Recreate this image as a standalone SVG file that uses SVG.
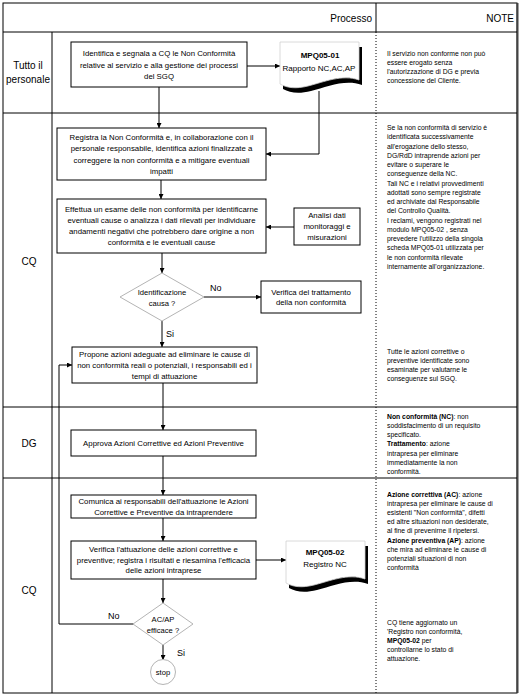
<svg xmlns="http://www.w3.org/2000/svg" width="522" height="696" viewBox="0 0 522 696">
<style>
text{font-family:"Liberation Sans",Arial,sans-serif;fill:#000}
.t{font-size:7.8px;text-anchor:middle}
.n{font-size:6.8px;text-anchor:start}
.lane{font-size:10px;text-anchor:middle}
.hd{font-size:10px;text-anchor:end}
.lbl{font-size:9px}
.box{fill:#fff;stroke:#000;stroke-width:1}
.dec{fill:#fff;stroke:#b4b4b4;stroke-width:1}
.doc{fill:#fff;stroke:#d0d0d0;stroke-width:0.8}
.sh{fill:#000}
.grid{stroke:#000;stroke-width:1;fill:none}
.dot{stroke:#000;stroke-width:1;stroke-dasharray:1 2;fill:none}
.conn{fill:none;stroke:#000;stroke-width:1}
.b{font-weight:bold}
</style>
<defs>
<marker id="ah" viewBox="0 0 10 10" refX="10" refY="5" markerWidth="6" markerHeight="5" markerUnits="userSpaceOnUse" orient="auto">
<path d="M0,0 L10,5 L0,10 Z" fill="#000"/>
</marker>
<path id="docshape" d="M0,0 H79 V38 C62,32 44,40 28,44 C16,47 7,46 0,42 Z"/>
</defs>
<rect width="522" height="696" fill="#fff"/>
<g id="frame">
<rect x="3" y="3" width="514" height="690" class="grid" stroke-width="1.3"/>
<line x1="517.5" y1="3" x2="517.5" y2="693" stroke="#444" stroke-width="2"/>
<line x1="3" y1="32" x2="517" y2="32" class="grid"/>
<line x1="376" y1="3" x2="376" y2="32" class="grid"/>
<line x1="376" y1="32" x2="376" y2="693" class="dot"/>
<line x1="52" y1="32" x2="52" y2="693" class="grid"/>
<line x1="3" y1="113" x2="517" y2="113" class="grid"/>
<line x1="3" y1="407" x2="517" y2="407" class="grid"/>
<line x1="3" y1="478" x2="517" y2="478" class="grid"/>
<text class="hd" x="372" y="22">Processo</text>
<text class="hd" x="514" y="22">NOTE</text>
</g>
<g id="lanes">
<text class="lane" x="28" y="69">Tutto il</text>
<text class="lane" x="28" y="83">personale</text>
<text class="lane" x="29" y="265">CQ</text>
<text class="lane" x="29" y="447">DG</text>
<text class="lane" x="29" y="594">CQ</text>
</g>
<g id="connectors">
<line x1="247" y1="66" x2="280" y2="66" class="conn" marker-end="url(#ah)"/>
<line x1="159" y1="87" x2="159" y2="128" class="conn" marker-end="url(#ah)"/>
<polyline points="319,91 319,154 266,154" class="conn" marker-end="url(#ah)"/>
<line x1="161" y1="180" x2="161" y2="199" class="conn" marker-end="url(#ah)"/>
<line x1="294" y1="227" x2="266" y2="227" class="conn" marker-end="url(#ah)"/>
<line x1="162" y1="253" x2="162" y2="273" class="conn" marker-end="url(#ah)"/>
<line x1="204" y1="297" x2="261" y2="297" class="conn" marker-end="url(#ah)"/>
<line x1="162" y1="321" x2="162" y2="347" class="conn" marker-end="url(#ah)"/>
<line x1="163" y1="383" x2="163" y2="430" class="conn" marker-end="url(#ah)"/>
<line x1="163" y1="456" x2="163" y2="495" class="conn" marker-end="url(#ah)"/>
<line x1="163" y1="518" x2="163" y2="541" class="conn" marker-end="url(#ah)"/>
<line x1="256" y1="560" x2="286" y2="560" class="conn" marker-end="url(#ah)"/>
<line x1="163" y1="579" x2="163" y2="603" class="conn" marker-end="url(#ah)"/>
<line x1="163" y1="645" x2="163" y2="660" class="conn" marker-end="url(#ah)"/>
<polyline points="134,624 59,624 59,365 72,365" class="conn" marker-end="url(#ah)"/>
<text class="lbl" x="210" y="291">No</text>
<text class="lbl" x="166" y="337">Si</text>
<text class="lbl" x="108" y="619">No</text>
<text class="lbl" x="177" y="656">Si</text>
</g>
<g id="n-identifica">
<rect x="71" y="42" width="176" height="45" class="box"/>
<text class="t"><tspan x="159" y="56">Identifica e segnala a CQ le Non Conformità</tspan><tspan x="159" y="67.5">relative al servizio e alla gestione dei processi</tspan><tspan x="159" y="79">del SGQ</tspan></text>
</g>
<g id="n-doc1">
<use href="#docshape" x="283" y="47" class="sh"/>
<use href="#docshape" x="280" y="42" class="doc"/>
<text class="t" style="font-size:8px"><tspan x="320" y="58" class="b">MPQ05-01</tspan><tspan x="319" y="71">Rapporto NC,AC,AP</tspan></text>
</g>
<g id="n-registra">
<rect x="57" y="128" width="209" height="52" class="box"/>
<text class="t"><tspan x="161.5" y="140">Registra la Non Conformità e, in collaborazione con il</tspan><tspan x="161.5" y="151.3">personale responsabile, identifica azioni finalizzate a</tspan><tspan x="161.5" y="162.6">correggere la non conformità e a mitigare eventuali</tspan><tspan x="161.5" y="173.9">impatti</tspan></text>
</g>
<g id="n-effettua">
<rect x="57" y="199" width="209" height="54" class="box"/>
<text class="t"><tspan x="161.5" y="212.3">Effettua un esame delle non conformità per identificarne</tspan><tspan x="161.5" y="223.3">eventuali cause o analizza i dati rilevati per individuare</tspan><tspan x="161.5" y="234.3">andamenti negativi che potrebbero dare origine a non</tspan><tspan x="161.5" y="245.3">conformità e le eventuali cause</tspan></text>
</g>
<g id="n-analisi">
<rect x="294" y="208" width="66" height="37" class="box"/>
<text class="t"><tspan x="327" y="218.3">Analisi dati</tspan><tspan x="327" y="229.3">monitoraggi e</tspan><tspan x="327" y="240.3">misurazioni</tspan></text>
</g>
<g id="n-dec1">
<polygon points="162,273 204,297 162,321 120,297" class="dec"/>
<text class="t" style="font-size:7.6px"><tspan x="162" y="295">Identificazione</tspan><tspan x="162" y="306">causa ?</tspan></text>
</g>
<g id="n-verifica">
<rect x="261" y="281" width="100" height="32" class="box"/>
<text class="t"><tspan x="311" y="294.5">Verifica del trattamento</tspan><tspan x="311" y="305">della non conformità</tspan></text>
</g>
<g id="n-propone">
<rect x="72" y="347" width="185" height="36" class="box"/>
<text class="t"><tspan x="164.5" y="356.8">Propone azioni adeguate ad eliminare le cause di</tspan><tspan x="164.5" y="367.8">non conformità reali o potenziali, i responsabili ed i</tspan><tspan x="164.5" y="378.8">tempi di attuazione</tspan></text>
</g>
<g id="n-approva">
<rect x="71" y="430" width="185" height="26" class="box"/>
<text class="t" x="163.5" y="445.8">Approva Azioni Correttive ed Azioni Preventive</text>
</g>
<g id="n-comunica">
<rect x="71" y="495" width="185" height="23" class="box"/>
<text class="t"><tspan x="163.5" y="503.8">Comunica ai responsabili dell'attuazione le Azioni</tspan><tspan x="163.5" y="514.8">Correttive e Preventive da intraprendere</tspan></text>
</g>
<g id="n-verifica2">
<rect x="71" y="541" width="185" height="38" class="box"/>
<text class="t"><tspan x="163.5" y="552.3">Verifica l'attuazione delle azioni correttive e</tspan><tspan x="163.5" y="562.8">preventive; registra i risultati e riesamina l'efficacia</tspan><tspan x="163.5" y="573.3">delle azioni intraprese</tspan></text>
</g>
<g id="n-doc2">
<use href="#docshape" x="289" y="546" class="sh"/>
<use href="#docshape" x="286" y="541" class="doc"/>
<text class="t" style="font-size:8px"><tspan x="325" y="555" class="b">MPQ05-02</tspan><tspan x="325" y="567">Registro NC</tspan></text>
</g>
<g id="n-dec2">
<polygon points="163,603 193,624 163,645 133,624" class="dec"/>
<text class="t" style="font-size:7.6px"><tspan x="163" y="621.5">AC/AP</tspan><tspan x="163" y="632.5">efficace ?</tspan></text>
</g>
<g id="n-stop">
<circle cx="163" cy="672" r="12.5" class="dec"/>
<text class="t" style="font-size:7.6px" x="163" y="674.5">stop</text>
</g>
<g id="notes">
<text class="n"><tspan x="387" y="55.5">Il servizio non conforme non può</tspan><tspan x="387" y="64.5">essere erogato senza</tspan><tspan x="387" y="73.5">l'autorizzazione di DG e previa</tspan><tspan x="387" y="82.5">concessione del Cliente.</tspan></text>
<text class="n"><tspan x="387" y="130">Se la non conformità di servizio è</tspan><tspan x="387" y="139.25">identificata successivamente</tspan><tspan x="387" y="148.5">all'erogazione dello stesso,</tspan><tspan x="387" y="157.75">DG/RdD  intraprende azioni per</tspan><tspan x="387" y="167">evitare o superare le</tspan><tspan x="387" y="176.25">conseguenze della NC.</tspan><tspan x="387" y="185.5">Tali NC e i relativi provvedimenti</tspan><tspan x="387" y="194.75">adottati sono sempre registrate</tspan><tspan x="387" y="204">ed archiviate dal Responsabile</tspan><tspan x="387" y="213.25">del Controllo Qualità.</tspan><tspan x="387" y="222.5">I reclami, vengono registrati  nel</tspan><tspan x="387" y="231.75">modulo  MPQ05-02 , senza</tspan><tspan x="387" y="241">prevedere l'utilizzo della singola</tspan><tspan x="387" y="250.25">scheda MPQ05-01 utilizzata per</tspan><tspan x="387" y="259.5">le non conformità rilevate</tspan><tspan x="387" y="268.75">internamente all'organizzazione.</tspan></text>
<text class="n"><tspan x="387" y="353.5">Tutte le azioni correttive o</tspan><tspan x="387" y="362.7">preventive identificate sono</tspan><tspan x="387" y="371.9">esaminate per valutarne le</tspan><tspan x="387" y="381.1">conseguenze sul SGQ.</tspan></text>
<text class="n"><tspan x="387" y="418.5"><tspan class="b">Non conformità (NC)</tspan>: non</tspan><tspan x="387" y="427.8">soddisfacimento di un requisito</tspan><tspan x="387" y="437.1">specificato.</tspan><tspan x="387" y="446.4"><tspan class="b">Trattamento</tspan>: azione</tspan><tspan x="387" y="455.7">intrapresa per eliminare</tspan><tspan x="387" y="465">immediatamente la non</tspan><tspan x="387" y="474.3">conformità.</tspan></text>
<text class="n"><tspan x="387" y="496.5"><tspan class="b">Azione correttiva (AC)</tspan>: azione</tspan><tspan x="387" y="505.7">intrapresa per eliminare le cause di</tspan><tspan x="387" y="514.9">esistenti "Non conformità", difetti</tspan><tspan x="387" y="524.1">ed altre situazioni non desiderate,</tspan><tspan x="387" y="533.3">al fine di prevenirne il ripetersi.</tspan><tspan x="387" y="542.5"><tspan class="b">Azione preventiva (AP)</tspan>: azione</tspan><tspan x="387" y="551.7">che mira ad eliminare le cause di</tspan><tspan x="387" y="560.9">potenziali situazioni di non</tspan><tspan x="387" y="570.1">conformità</tspan></text>
<text class="n"><tspan x="387" y="624.5">CQ  tiene aggiornato un</tspan><tspan x="387" y="633.7">'Registro non conformità,</tspan><tspan x="387" y="642.9"><tspan class="b">MPQ05-02</tspan>  per</tspan><tspan x="387" y="652.1">controllarne lo stato di</tspan><tspan x="387" y="661.3">attuazione.</tspan></text>
</g>
</svg>
